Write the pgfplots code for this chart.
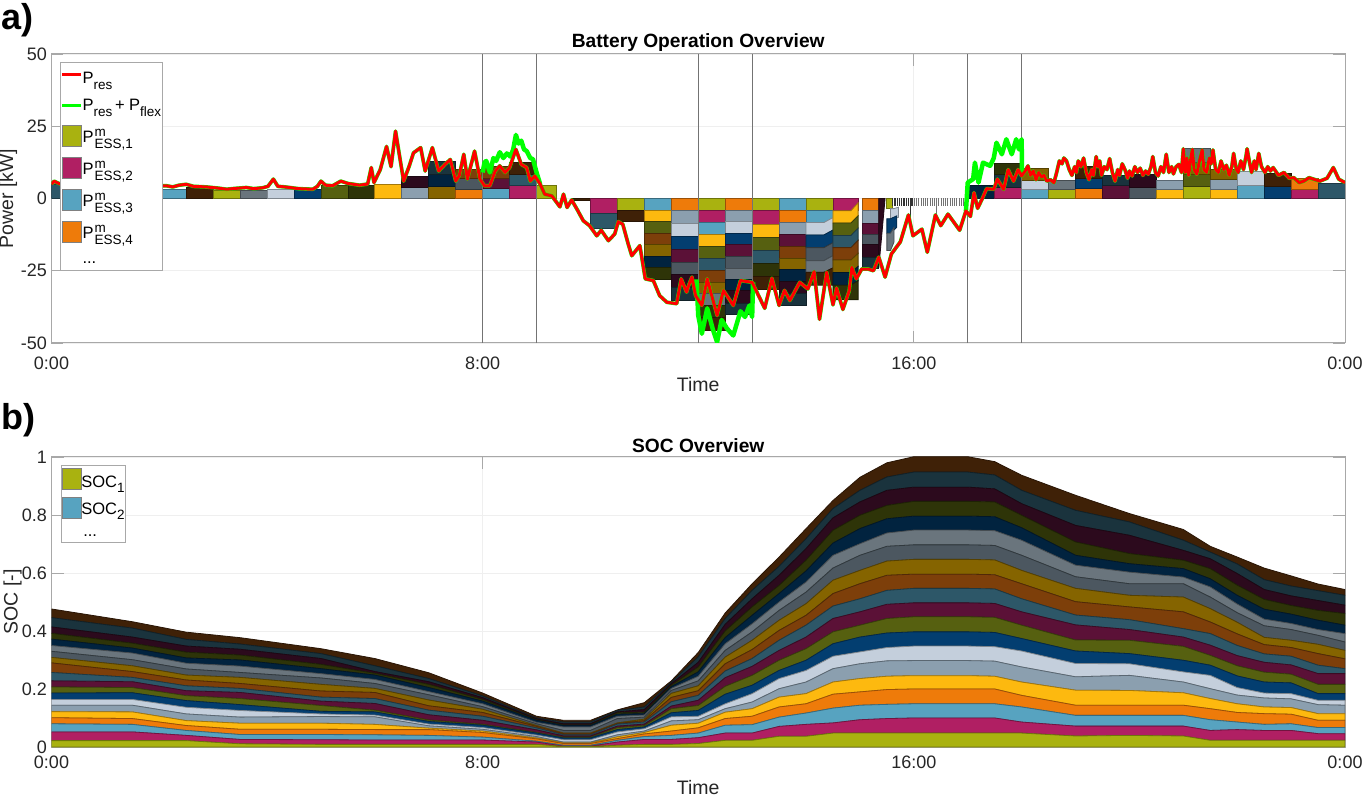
\documentclass[border=0pt]{standalone}
\usepackage{pgfplots}
\usepackage{pgfplotstable}
\usepackage{fontspec}
\setmainfont{Liberation Sans}
\pgfplotsset{compat=1.18}
\definecolor{cc1}{HTML}{A9B210}\definecolor{cc2}{HTML}{B01F63}\definecolor{cc3}{HTML}{57A3C0}\definecolor{cc4}{HTML}{EE7B0A}
\definecolor{cc5}{HTML}{FDB90F}\definecolor{cc6}{HTML}{8B9FAF}\definecolor{cc7}{HTML}{C4CFDC}\definecolor{cc8}{HTML}{033E70}
\definecolor{cc9}{HTML}{566010}\definecolor{cc10}{HTML}{5B1137}\definecolor{cc11}{HTML}{2D5768}\definecolor{cc12}{HTML}{7D3F0A}
\definecolor{cc13}{HTML}{856400}\definecolor{cc14}{HTML}{4C5760}\definecolor{cc15}{HTML}{6A757D}\definecolor{cc16}{HTML}{01233F}
\definecolor{cc17}{HTML}{2E3408}\definecolor{cc18}{HTML}{2C0A1D}\definecolor{cc19}{HTML}{1A333D}\definecolor{cc20}{HTML}{3F2107}
\definecolor{axg}{HTML}{A8A8A8}\definecolor{txt}{HTML}{262626}\definecolor{grd}{HTML}{EFEFEF}
\pgfplotstableread[row sep=crcr]{
t p\\
0 5\\ 3 6\\ 6 5.5\\ 10 5\\ 20 4.6\\ 40 4.5\\ 60 4.3\\ 80 4.5\\ 100 4.2\\ 120 4.4\\ 128 4.4\\ 135 4\\ 142 4.6\\ 150 4.9\\ 158 4.2\\ 172 4\\ 185 3.6\\ 195 3.2\\ 205 3.5\\ 217 3.8\\ 225 3.4\\ 235 3.7\\ 241 4.2\\ 247 6.7\\ 252 4.2\\ 260 4\\ 275 3.4\\ 291 3.2\\ 296 4.2\\ 300 6\\ 305 4.6\\ 313 4.4\\ 322 6\\ 330 5.2\\ 343 4.6\\ 352 5\\ 356 10.7\\ 359 5.5\\ 366 10\\ 373 18\\ 378 11\\ 383 23.3\\ 389 11.8\\ 392 6\\ 398 11\\ 403 15.8\\ 411 17.6\\ 416 9.5\\ 424 17.6\\ 431 9.5\\ 438 11.8\\ 444 13.5\\ 450 6\\ 454 8\\ 459 15.3\\ 463 6.7\\ 471 16.4\\ 477 6.7\\
482 4.4\\ 488 4.4\\ 494 9.5\\ 499 11.3\\ 505 9\\ 510 10.7\\ 517 17\\ 523 11.8\\ 529 10.7\\ 533 6\\ 538 7.8\\ 544 5\\ 549 1.5\\ 557 0.9\\ 566 -2.9\\ 570 1.5\\ 574 -3.1\\ 579 -0.5\\ 585 -3.7\\ 592 -7.7\\ 599 -9.4\\ 607 -12.9\\ 612 -11\\ 620 -14.6\\ 627 -12.3\\ 631 -8\\ 636 -8.9\\ 642 -15.7\\ 646 -19.8\\ 655 -16.3\\ 661 -27.8\\ 670 -28.4\\ 677 -33.6\\ 685 -35.9\\ 696 -36.4\\ 701 -27.8\\ 707 -32.4\\ 710 -29.5\\ 713 -27.2\\ 717 -33.6\\ 724 -37\\ 730 -27.8\\ 741 -40.5\\ 748 -31.8\\ 759 -37\\ 767 -28.4\\ 780 -29\\ 794 -38\\ 802 -27.6\\ 810 -37\\ 816 -31.8\\ 822 -35.3\\ 833 -29\\ 842 -31.3\\ 849 -25.3\\ 855 -41.8\\ 863 -25.5\\ 870 -36.8\\ 874 -31\\ 881 -38.4\\ 888 -32\\ 891 -23.8\\ 896 -27.8\\ 902 -24.4\\ 909 -24.4\\ 915 -25\\ 921 -20.3\\ 928 -27.2\\ 935 -19.2\\ 945 -15\\ 954 -5.7\\ 959 -12.9\\ 969 -10.6\\ 975 -18.6\\ 984 -5.7\\ 990 -9.4\\ 998 -5.4\\ 1011 -11\\ 1018 -4.3\\ 1023 -6.2\\ 1027 2\\ 1031 -3.4\\ 1036 -0.2\\ 1041 3.4\\ 1049 3.2\\ 1053 6.7\\ 1060 3.2\\ 1065 10\\ 1071 6\\ 1076 10\\ 1080 7.8\\
1084 9.5\\ 1087 11.3\\ 1090 8\\ 1093 9.5\\ 1096 6.5\\ 1099 9\\ 1102 7.5\\ 1105 8\\ 1108 6\\ 1112 6.5\\ 1116 5.5\\ 1119 9\\ 1122 13\\ 1125 12\\ 1127 14\\ 1130 13\\ 1133 10\\ 1136 8\\ 1139 11\\ 1141 9\\ 1143 13\\ 1146 11\\ 1149 14\\ 1152 9\\ 1155 6.5\\ 1158 10\\ 1160 8\\ 1163 14.5\\ 1165 11\\ 1167 13\\ 1169 8\\ 1172 11\\ 1175 10\\ 1178 13.8\\ 1181 9\\ 1184 6\\ 1187 10\\ 1189 8\\ 1192 12\\ 1195 10\\ 1198 7\\ 1200 9.5\\ 1203 7.8\\ 1206 11\\ 1209 9\\ 1212 10.5\\ 1215 8\\ 1218 9.5\\ 1221 8.4\\ 1224 11\\ 1226 14.5\\ 1229 9\\ 1232 7.8\\ 1235 11\\ 1238 9\\ 1241 15.3\\ 1244 9\\ 1247 11\\ 1249 8.5\\ 1252 11\\ 1255 11.8\\ 1258 9\\ 1260 17.2\\ 1262 9\\ 1264 14\\ 1266 8\\ 1268 13\\ 1270 17\\ 1272 10\\ 1275 8.4\\ 1278 13\\ 1281 16.8\\ 1283 10\\ 1286 9\\ 1289 14\\ 1291 12\\ 1293 16.8\\ 1296 10\\ 1299 9\\ 1302 13\\ 1305 10\\ 1308 11.5\\ 1311 8\\ 1314 11\\ 1316 15.6\\ 1319 10\\ 1321 9\\ 1324 13\\ 1327 10\\ 1330 15\\ 1331 17.2\\ 1334 12\\ 1336 9\\ 1339 13\\ 1341 10\\ 1344 15.6\\ 1347 11\\ 1351 9\\ 1354 11\\ 1357 9.5\\ 1360 10.7\\ 1366 8\\ 1372 9\\ 1378 7\\ 1383 7.2\\ 1389 5.5\\ 1394 6\\ 1400 7.2\\ 1405 6.7\\ 1412 6\\ 1420 7\\ 1427 10.7\\ 1433 6.7\\ 1440 5.5\\
}\Pres
\pgfplotstableread[row sep=crcr]{
t g\\
480 9\\ 482 12.4\\ 484 13\\ 488 9\\ 492 14\\ 495 13\\ 499 16\\ 503 14\\ 507 15.6\\ 511 14.5\\ 514 17\\ 517 22\\ 520 19\\ 523 20\\ 526 17\\ 529 16.4\\ 533 14\\ 536 13.6\\ 540 9\\ 544 5\\
}\GreenA
\pgfplotstableread[row sep=crcr]{
t g\\
718 -28\\ 720 -40.5\\ 724 -46.8\\ 730 -38\\ 736 -45\\ 741 -49.7\\ 746 -42\\ 752 -45\\ 759 -47.4\\ 767 -39\\ 772 -41\\ 777 -37\\ 780 -41\\ 781 -29\\
}\GreenB
\pgfplotstableread[row sep=crcr]{
t g\\
1018 -4.3\\ 1020 5.5\\ 1026 6.7\\ 1028 12.4\\ 1032 5.5\\ 1037 12.4\\ 1045 11.3\\ 1049 14\\ 1052 19.3\\ 1058 15.3\\ 1063 20.5\\ 1069 15.3\\ 1074 20.5\\ 1077 17\\ 1080 20.5\\ 1080.5 8\\
}\GreenC
\pgfplotstableread[row sep=crcr]{
t s1 s2 s3 s4 s5 s6 s7 s8 s9 s10 s11 s12 s13 s14 s15 s16 s17 s18 s19 s20\\
0 .022 .030 .028 .021 .021 .022 .020 .022 .021 .021 .029 .033 .019 .021 .020 .022 .020 .022 .032 .030\\
90 .022 .030 .026 .020 .023 .023 .020 .023 .018 .020 .015 .020 .020 .021 .023 .017 .017 .021 .031 .022\\
150 .022 .018 .017 .017 .017 .023 .023 .023 .017 .017 .017 .020 .017 .021 .020 .018 .020 .021 .023 .025\\
210 .011 .015 .017 .018 .021 .021 .023 .020 .021 .021 .014 .017 .021 .017 .022 .021 .017 .020 .018 .022\\
300 .009 .016 .018 .018 .021 .023 .009 .009 .020 .015 .014 .021 .023 .022 .015 .017 .015 .020 .017 .017\\
360 .009 .015 .018 .018 .018 .026 .006 .011 .006 .023 .017 .021 .014 .017 .014 .015 .006 .006 .020 .025\\
420 .009 .015 .016 .020 .005 .008 .006 .009 .005 .018 .016 .015 .020 .018 .011 .014 .011 .009 .011 .020\\
480 .009 .015 .010 .016 .005 .006 .006 .008 .003 .014 .014 .013 .011 .009 .010 .009 .006 .006 .006 .010\\
540 .009 .008 .003 .008 .003 .005 .005 .007 .002 .009 .007 .005 .003 .006 .005 .007 .002 .003 .003 .006\\
570 .002 .001 .003 .006 .002 .003 .008 .006 .003 .004 .004 .004 .002 .009 .012 .005 .002 .004 .006 .006\\
600 .002 .001 .003 .006 .002 .003 .008 .006 .003 .004 .004 .004 .002 .009 .012 .005 .002 .004 .006 .006\\
630 .006 .011 .006 .006 .006 .007 .010 .008 .007 .005 .007 .002 .002 .015 .008 .007 .005 .003 .005 .002\\
660 .009 .017 .010 .009 .005 .005 .008 .006 .005 .005 .007 .005 .005 .007 .007 .005 .005 .009 .009 .015\\
690 .009 .017 .014 .015 .020 .015 .014 .014 .014 .009 .015 .015 .014 .010 .007 .006 .005 .005 .005 .005\\
720 .012 .020 .016 .018 .016 .012 .012 .020 .017 .018 .017 .016 .017 .017 .016 .015 .017 .016 .019 .015\\
750 .023 .025 .027 .023 .022 .012 .017 .033 .027 .030 .023 .025 .023 .023 .023 .021 .023 .023 .020 .019\\
780 .023 .025 .029 .029 .026 .023 .029 .029 .034 .031 .027 .031 .032 .029 .028 .029 .029 .028 .029 .023\\
810 .037 .034 .032 .035 .034 .029 .035 .028 .035 .034 .035 .034 .035 .034 .029 .029 .028 .035 .031 .032\\
840 .037 .041 .039 .032 .035 .040 .040 .035 .040 .040 .041 .034 .040 .040 .035 .038 .037 .040 .034 .035\\
870 .048 .035 .051 .048 .042 .046 .043 .043 .041 .046 .043 .043 .046 .042 .044 .042 .044 .043 .032 .028\\
900 .048 .046 .050 .046 .046 .051 .041 .051 .041 .046 .045 .052 .046 .052 .040 .052 .046 .046 .040 .045\\
930 .048 .050 .049 .051 .046 .053 .046 .050 .050 .049 .048 .052 .049 .051 .046 .049 .046 .052 .046 .049\\
960 .048 .052 .049 .051 .046 .052 .050 .049 .052 .048 .050 .049 .051 .050 .051 .048 .051 .049 .052 .053\\
1020 .048 .052 .049 .051 .046 .052 .050 .049 .052 .048 .050 .049 .051 .050 .051 .048 .051 .049 .052 .053\\
1050 .048 .052 .049 .051 .044 .052 .050 .049 .052 .048 .050 .049 .051 .050 .051 .048 .051 .045 .048 .046\\
1080 .048 .038 .052 .040 .046 .052 .055 .043 .046 .046 .045 .052 .046 .052 .052 .043 .043 .040 .046 .052\\
1140 .038 .034 .037 .035 .052 .046 .046 .043 .038 .052 .034 .046 .046 .040 .040 .034 .046 .057 .052 .052\\
1200 .040 .032 .037 .035 .051 .052 .040 .035 .046 .037 .034 .044 .040 .040 .040 .029 .035 .063 .046 .029\\
1260 .038 .034 .037 .035 .043 .037 .035 .040 .048 .032 .029 .058 .051 .046 .023 .029 .029 .034 .035 .037\\
1290 .023 .034 .037 .038 .035 .034 .046 .035 .034 .035 .040 .040 .046 .040 .035 .028 .035 .034 .023 .020\\
1320 .023 .037 .026 .033 .030 .030 .026 .040 .035 .035 .035 .040 .040 .033 .030 .030 .035 .040 .033 .024\\
1350 .023 .034 .021 .037 .023 .031 .017 .038 .034 .034 .029 .032 .025 .040 .023 .034 .034 .034 .034 .040\\
1380 .023 .034 .023 .033 .023 .030 .018 .037 .030 .032 .030 .030 .025 .037 .021 .032 .030 .033 .034 .035\\
1410 .023 .023 .021 .025 .023 .031 .015 .023 .032 .037 .029 .040 .032 .031 .020 .032 .034 .034 .034 .023\\
1440 .023 .023 .021 .025 .023 .029 .017 .023 .032 .037 .017 .034 .029 .029 .029 .029 .040 .029 .034 .020\\
}\Soc
\pgfplotsset{
  block/.style={fill=cc#1,draw=cc#1!65!black,line width=.8pt,forget plot,no markers,solid},
  common/.style={
    scale only axis,width=1293.5pt,xmin=0,xmax=1440,xtick={0,480,960,1440},xticklabels={0:00,8:00,16:00,0:00},
    axis line style={axg,line width=1pt},tick style={axg,line width=.8pt},tick align=inside,major tick length=12pt,
    grid=major,grid style={grd,line width=.7pt},
    /pgf/number format/assume math mode=true,
    tick label style={font=\fontsize{18}{20}\selectfont,text=txt},
    label style={font=\fontsize{19.5}{21}\selectfont,text=txt},
    title style={font=\fontsize{19.2}{21}\selectfont\bfseries,text=black,at={(axis description cs:0.5,1.02)},anchor=center},
    xlabel style={at={(axis description cs:0.5,-0.145)},anchor=center},
    ylabel style={at={(axis description cs:-0.0336,0.5)},anchor=center,rotate=0},
    yticklabel style={xshift=-1pt},
    legend cell align=left,
    legend style={draw=axg,line width=.8pt,fill=white,inner sep=0pt,row sep=0pt,anchor=north west,
      nodes={inner sep=0pt,text depth={}},/tikz/every even column/.style={column sep=5pt}},
  },
  linei/.style={legend image code/.code={\draw[#1,line width=2.6pt] (1pt,3pt)--(20pt,3pt);}},
  boxi/.style={legend image code/.code={\draw[fill=cc#1,draw=gray,line width=.8pt] (1pt,-6pt) rectangle (20pt,15pt);}},
  boxj/.style={legend image code/.code={\draw[fill=cc#1,draw=gray,line width=.8pt] (1pt,-8.5pt) rectangle (20pt,13pt);}},
  blank/.style={legend image code/.code={}},
}
\newcommand{\slot}[3]{\gdef\prevy{0}\foreach \c/\y in {#3}{\edef\tmp{\noexpand\addplot[block=\c] coordinates {(#1,\prevy)(#2,\prevy)(#2,\y)(#1,\y)} -- cycle;}\tmp\xdef\prevy{\y}}}
\newcommand{\sla}[8]{\addplot[block=#1] coordinates {(#2,#5)(#3,#5)(#4,#7)(#4,#8)(#3,#6)(#2,#6)} -- cycle;}
\newcommand{\Sm}{\fontsize{13.5}{14}\selectfont}
\newcommand{\Pe}[1]{\rule[-14pt]{0pt}{32pt}P\kern1pt\rlap{\raisebox{6pt}{\Sm m}}\raisebox{-6pt}{\Sm ESS,#1}}
\begin{document}
\begin{tikzpicture}[x=1pt,y=1pt]
\useasboundingbox (0,0) rectangle (1362,795);
\begin{axis}[common,at={(51.5pt,452pt)},anchor=south west,height=289pt,ymin=-50,ymax=50,ytick={-50,-25,0,25,50},
  title={Battery Operation Overview},xlabel={Time},ylabel={Power [kW]},
  xticklabel style={yshift=-10pt},
  legend style={at={(axis description cs:0.00696,0.971)},font=\fontsize{16.5}{18}\selectfont}]
\addlegendimage{linei=red}\addlegendentry{\rule[-9pt]{0pt}{29.5pt}P\raisebox{-6pt}{\Sm res}\kern4pt}
\addlegendimage{linei=green}\addlegendentry{\rule[-14pt]{0pt}{32pt}P\raisebox{-6pt}{\Sm res}\,+ P\raisebox{-6pt}{\Sm flex}\kern1pt}
\addlegendimage{boxi=1}\addlegendentry{\Pe{1}}
\addlegendimage{boxi=2}\addlegendentry{\Pe{2}}
\addlegendimage{boxi=3}\addlegendentry{\Pe{3}}
\addlegendimage{boxi=4}\addlegendentry{\Pe{4}}
\addlegendimage{blank}\addlegendentry{\rule[-7pt]{0pt}{18pt}...}
% positive half-hour blocks
\slot{0}{30}{11/4.9}\slot{30}{60}{2/3.3}\slot{60}{90}{1/3.3}\slot{90}{120}{4/3.3}
\slot{120}{150}{3/3.2}\slot{150}{180}{20/3.8}\slot{180}{210}{1/2.9}\slot{210}{240}{15/2.9}
\slot{240}{270}{7/3.2}\slot{270}{300}{8/3.1}\slot{300}{330}{9/4.7}\slot{330}{360}{17/4.7}
\slot{360}{390}{5/4.9}\slot{390}{420}{6/3.9,18/7.8}\slot{420}{450}{13/4.25,16/8.4,19/12.8}
\slot{450}{480}{4/3.3,14/6.9,12/10}\slot{480}{510}{3/3.4,10/7,12/11}\slot{510}{540}{2/4.4,11/8.4,20/12.4}
\slot{540}{562}{1/4.7}\slot{580}{600}{20/-0.7}
% negative blocks
\slot{600}{630}{2/-5.2,11/-10.3}
\slot{630}{660}{1/-4.1,20/-8}
\slot{660}{690}{3/-4,5/-8,9/-12.2,12/-16,13/-19.9,16/-24,17/-28}
\slot{690}{720}{4/-4.1,6/-8.7,7/-13.1,8/-17.5,10/-22,14/-26.4,18/-30.8,19/-35.2}
\slot{720}{750}{1/-4.25,2/-8.4,3/-12.5,5/-16.6,9/-20.7,11/-24.8,12/-29,13/-33,15/-37,17/-41,20/-45.6}
\slot{750}{780}{4/-4.1,6/-7.9,7/-12,8/-16,10/-20,14/-24.1,15/-28,16/-31.8,18/-36.2,19/-40.2}
\slot{780}{810}{1/-4.25,2/-9,5/-13.4,9/-18,11/-22.6,17/-27,20/-31.3}
\slot{810}{840}{3/-4.1,4/-8.3,6/-12.3,10/-16.6,12/-20.7,13/-24.7,16/-28.7,18/-33,19/-37}
\slot{840}{870}{1/-4.25,3/-8.3}
\sla{7}{840}{860}{870}{-8.3}{-12.6}{-6.6}{-10.9}
\sla{8}{840}{860}{870}{-12.6}{-17}{-10.9}{-15.3}
\sla{14}{840}{860}{870}{-17}{-21.5}{-15.3}{-19.8}
\sla{15}{840}{860}{870}{-21.5}{-25.5}{-19.8}{-24}
\sla{20}{840}{860}{870}{-25.5}{-30}{-24}{-30}
\slot{870}{898}{2/-4.25}
\sla{5}{870}{890}{898}{-4.25}{-8.5}{-1.5}{-6}
\sla{9}{870}{890}{898}{-8.5}{-12.8}{-6}{-10.3}
\sla{11}{870}{890}{898}{-12.8}{-17}{-10.3}{-14.5}
\sla{12}{870}{890}{898}{-17}{-21.3}{-14.5}{-19}
\sla{13}{870}{890}{898}{-21.3}{-25.6}{-19}{-23.5}
\sla{16}{870}{890}{898}{-25.6}{-30}{-23.5}{-28.5}
\sla{17}{870}{890}{898}{-30}{-35}{-28.5}{-35}
\slot{903}{921}{4/-4.25,6/-8.5,10/-12.3,14/-16,18/-20.3,19/-24.3}
\addplot[block=18] coordinates {(921,0)(928,0)(921,-24)} -- cycle;
\slot{930}{936}{1/-3.5}
\sla{7}{934}{938}{943}{-3.5}{-7}{-3}{-6.5}
\sla{8}{930}{934}{941}{-7}{-12}{-6}{-10}
\sla{15}{930}{934}{938}{-12}{-18}{-10}{-15}
% narrow blocks of the last hour of charging
\addplot[ycomb,forget plot,no markers,line width=1.1pt,color=black!80] coordinates {
(936,-2.5)(938,-2.5)(940,-2.6)(942,-2.6)(944,-2.6)(946,-2.5)(948,-2.6)(950,-2.5)(952,-2.6)(954,-2.5)(956,-8)(958,-2.6)};
\addplot[ycomb,forget plot,no markers,line width=1pt,color=black!55] coordinates {
(960.5,-2.6)(963,-2.6)(965.5,-2.6)(968,-2.6)(970.5,-2.6)(973,-2.6)(975.5,-2.6)(978,-2.6)(980.5,-2.6)(983,-2.6)(985.5,-5.5)(988,-2.6)(990.5,-2.6)(993,-2.6)(995.5,-2.6)(998,-2.6)(1000.5,-2.6)(1003,-2.6)(1005.5,-2.6)(1008,-2.6)(1010.5,-2.6)(1013,-2.6)(1015.5,-2.6)(1018,-2.6)};
\slot{1020}{1050}{16/4.7}
\slot{1050}{1080}{2/4,19/8.4,17/12}
\slot{1080}{1110}{3/3.2,7/6.4,13/10.3}\slot{1110}{1140}{1/3.2,15/6.4}\slot{1140}{1170}{4/3.6,8/7,20/11}
\slot{1170}{1200}{10/4.4,19/8}\slot{1200}{1230}{14/4,18/8.3}\slot{1230}{1260}{5/3.2,6/6.4}
\slot{1260}{1290}{1/4.25,9/8.4,13/12.6,15/17.2}\slot{1290}{1320}{5/3.2,6/6.7,13/10}\slot{1320}{1350}{3/4.6,7/9.3}
\slot{1350}{1380}{8/4.25,20/8.6}\slot{1380}{1410}{2/3.2,4/6.9}\slot{1410}{1440}{11/5.3}
% window borders
\foreach \v in {480,540,720,780,1020,1080}{\edef\tmp{\noexpand\addplot[forget plot,no markers,color=black!55,line width=1pt] coordinates {(\v,-50)(\v,50)};}\tmp}
% lines
\addplot[forget plot,no markers,color=green,line width=3.7pt,line join=round] table[x=t,y=p] {\Pres};
\addplot[forget plot,no markers,color=green,line width=4.5pt,line join=round] table[x=t,y=g] {\GreenA};
\addplot[forget plot,no markers,color=green,line width=4.5pt,line join=round] table[x=t,y=g] {\GreenB};
\addplot[forget plot,no markers,color=green,line width=4.5pt,line join=round] table[x=t,y=g] {\GreenC};
\addplot[forget plot,no markers,color=red,line width=3pt,line join=round] table[x=t,y=p] {\Pres};
\end{axis}
\begin{axis}[common,at={(51.5pt,48pt)},anchor=south west,height=290pt,ymin=0,ymax=1,ytick={0,0.2,0.4,0.6,0.8,1},
  yticklabels={0,0.2,0.4,0.6,0.8,1},
  title={SOC Overview},xlabel={Time},ylabel={SOC [-]},stack plots=y,
  xticklabel style={yshift=-5pt},
  ylabel style={at={(axis description cs:-0.03,0.5)}},
  xlabel style={at={(axis description cs:0.5,-0.14)}},
  legend style={at={(axis description cs:0.00696,0.9715)},font=\fontsize{16.5}{17}\selectfont}]
\addlegendimage{boxj=1}\addlegendentry{\rule[-9.3pt]{0pt}{31pt}SOC\raisebox{-5pt}{\Sm 1}\kern1pt}
\addlegendimage{boxj=3}\addlegendentry{\rule[-9.3pt]{0pt}{27pt}SOC\raisebox{-5pt}{\Sm 2}\kern1pt}
\addlegendimage{blank}\addlegendentry{\rule[-5.7pt]{0pt}{18.4pt}\kern2pt...}
\pgfplotsinvokeforeach{1,...,20}{
\addplot[forget plot,no markers,fill=cc#1,draw=cc#1!65!black,line width=.8pt] table[x=t,y=s#1] {\Soc} \closedcycle;
}
\end{axis}
\node[anchor=west,font=\fontsize{36}{38}\selectfont\bfseries,text=black,inner sep=0pt] at (1,775) {a)};
\node[anchor=west,font=\fontsize{36}{38}\selectfont\bfseries,text=black,inner sep=0pt] at (1,375) {b)};
\end{tikzpicture}
\end{document}
